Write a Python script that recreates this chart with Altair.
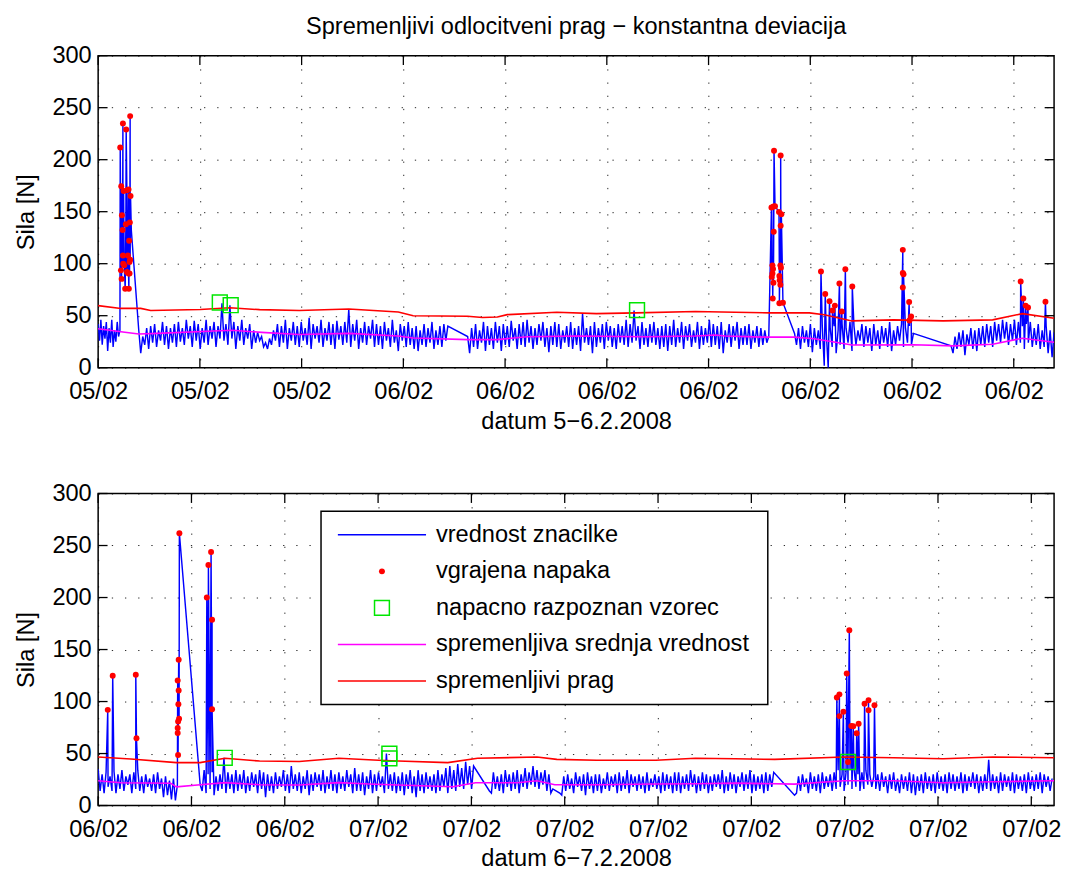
import json
import numpy as np
import pandas as pd
import altair as alt

FONT = "Liberation Sans"
FS = 23.8

TITLE = "Spremenljivi odlocitveni prag − konstantna deviacija"
Y_TITLE = "Sila [N]"
TOP_X_TITLE = "datum 5−6.2.2008"
BOTTOM_X_TITLE = "datum 6−7.2.2008"
LEGEND_LABELS = ["vrednost znacilke", "vgrajena napaka", "napacno razpoznan vzorec",
                 "spremenljiva srednja vrednost", "spremenljivi prag"]

X_MAX = 965
Y_TICKS = [0, 50, 100, 150, 200, 250, 300]
TOP_TICK_STEP = 102.7
TOP_TICK_LABELS = ["05/02"] * 3 + ["06/02"] * 7
BOTTOM_TICK_STEP = 94.2
BOTTOM_TICK_LABELS = ["06/02"] * 3 + ["07/02"] * 8

# ---------------- top panel (5-6.2.2008) ----------------
# noise segments: (x start, x end, local peaks, local troughs between the peaks)
top_seg_a = (0, 22, [42, 46, 40, 44, 38, 46, 36, 44, 36],
             [26, 22, 28, 16, 24, 20, 25, 30])
top_seg_b = (41, 353, [36, 30, 38, 40, 42, 36, 44, 40, 38, 42,
                       44, 38, 46, 40, 45, 42, 38, 46, 40, 44,
                       40, 62, 42, 60, 44, 40, 46, 38, 42, 36,
                       34, 30, 24, 28, 36, 42, 40, 46, 38, 44,
                       40, 44, 38, 48, 42, 40, 46, 38, 44, 42,
                       45, 40, 44, 56, 42, 46, 38, 44, 40, 46,
                       42, 40, 44, 38, 46, 36, 42, 40, 44, 38,
                       40, 36, 42, 38, 44, 36, 40, 42, 40],
             [14, 22, 18, 24, 20, 26, 22, 18, 24, 20,
              25, 22, 28, 20, 26, 18, 24, 22, 28, 20,
              28, 26, 22, 28, 18, 26, 22, 28, 18, 24,
              26, 20, 18, 22, 26, 20, 24, 18, 26, 22,
              20, 26, 22, 18, 28, 24, 20, 26, 22, 18,
              27, 22, 24, 20, 26, 18, 24, 22, 28, 20,
              22, 18, 26, 20, 24, 16, 26, 20, 22, 18,
              16, 22, 20, 24, 18, 22, 20, 26])
top_seg_c = (373, 677, [30, 38, 42, 36, 44, 40, 38, 44, 40, 42,
                        40, 45, 38, 42, 44, 46, 40, 38, 42, 44,
                        38, 40, 44, 42, 36, 40, 44, 38, 40, 52,
                        38, 40, 44, 38, 42, 44, 40, 38, 42, 40,
                        46, 42, 55, 40, 44, 38, 42, 44, 38, 40,
                        42, 40, 46, 38, 44, 40, 42, 36, 44, 40,
                        38, 46, 42, 40, 44, 36, 42, 40, 44, 38,
                        40, 42, 36, 40, 38, 36, 30],
             [14, 20, 18, 24, 16, 22, 18, 24, 16, 22,
              20, 26, 18, 22, 20, 24, 18, 22, 26, 20,
              15, 22, 20, 18, 24, 20, 18, 22, 16, 24,
              22, 14, 20, 24, 18, 26, 20, 18, 24, 22,
              20, 24, 26, 18, 22, 20, 24, 22, 18, 20,
              16, 22, 20, 24, 18, 26, 20, 24, 18, 22,
              24, 20, 22, 18, 14, 24, 20, 26, 18, 22,
              22, 18, 24, 20, 22, 24])
top_seg_d = (703, 823, [33, 38, 40, 36, 42, 38, 36, 40, 34, 38,
                        40, 36, 42, 38, 44, 40, 36, 42, 40, 38,
                        42, 36, 40, 38, 44, 36, 40, 42, 38, 40, 33],
             [22, 18, 24, 20, 15, 22, 18, 2, 0, 20,
              14, 22, 18, 24, 16, 22, 26, 20, 24, 16,
              22, 18, 24, 20, 16, 22, 26, 20, 24, 22])
top_seg_e = (861, 965, [21, 30, 34, 36, 32, 38, 36, 38, 40, 42,
                        40, 44, 42, 46, 44, 42, 46, 44, 40, 42,
                        44, 38, 42, 36, 40, 36, 34],
             [14, 18, 20, 12, 22, 18, 16, 22, 20, 24,
              20, 26, 24, 28, 22, 26, 22, 24, 18, 24,
              20, 22, 18, 20, 14, 10])
top_extra_x = [33.5]
top_extra_y = [132]

top_fault_x = [22.3, 23.0, 23.3, 23.7, 24.0, 24.7, 25.0, 25.0, 25.3, 25.7, 26.3, 27.3, 28.0, 28.3,
               29.0, 29.0, 30.0, 30.7, 30.7, 31.0, 31.3, 31.7, 31.7, 32.0, 32.3, 32.3, 32.7,
               679.7, 680.0, 680.7, 680.7, 681.0, 681.3, 681.7, 681.7, 682.0, 682.3, 683.3,
               687.3, 687.7, 687.7, 688.0, 688.7, 688.7, 689.0, 689.0, 689.3, 689.7, 691.3,
               729.7, 734.0, 738.3, 741.3, 743.7, 748.3, 750.7, 754.3, 761.3,
               812.3, 812.3, 812.3, 813.0, 818.7, 819.0, 820.7,
               931.3, 934.0, 936.3, 938.7, 956.3]
top_fault_y = [211.7, 93.6, 174.5, 85.4, 146.6, 132.3, 234.9, 107.9, 100.0, 169.8, 98.4, 76.0, 138.0, 229.0,
               170.7, 92.0, 107.9, 171.4, 90.5, 76.0, 122.0, 101.6, 90.5, 139.7, 241.9, 103.8, 165.0,
               154.0, 87.3, 98.4, 90.5, 66.6, 94.9, 154.9, 81.6, 130.7, 208.5, 155.2,
               149.8, 88.2, 61.9, 84.1, 98.4, 79.7, 136.4, 204.0, 96.2, 147.6, 62.5,
               92.4, 70.8, 64.0, 55.0, 59.7, 81.0, 54.0, 94.6, 78.0,
               113.3, 91.1, 77.1, 89.8, 63.1, 45.4, 49.2,
               82.8, 66.6, 59.7, 57.8, 63.5]
top_wrong_x = [122.8, 133.8, 544.0]
top_wrong_y = [62.7, 60.1, 55.4]
top_mean_x = [0, 23, 41, 60, 123, 135, 165, 203, 253, 303, 318, 373, 403, 433, 483, 553, 603,
              623, 633, 673, 703, 723, 761, 823, 863, 903, 933, 965]
top_mean_y = [37.4, 34.5, 32.4, 33, 35.5, 36, 34, 32, 33, 30.5, 28.6, 27, 27, 29.8, 30.5, 29.8, 30.5,
              31.4, 30.5, 29.4, 29.4, 27.8, 21.9, 22, 21, 22.5, 28.3, 24.4]
top_thr_x = [0, 23, 43, 53, 103, 133, 163, 203, 253, 303, 318, 373, 388, 403, 413, 463, 503, 543,
             603, 643, 678, 718, 733, 761, 803, 853, 903, 933, 965]
top_thr_y = [59.7, 57, 57, 55, 56, 57.6, 55.8, 55, 56.5, 53.6, 50, 49.5, 48.2, 48.8, 51, 53.3, 52, 52.7,
             54, 53.3, 52.7, 52.7, 51, 45, 46, 45, 46, 52, 47.5]

# ---------------- bottom panel (6-7.2.2008) ----------------
bot_seg_a = (0, 80, [35, 30, 32, 28, 33, 30, 34, 28, 30, 32, 34, 28, 30, 26, 30, 32, 26, 28, 24, 26, 20],
             [14, 12, 18, 14, 12, 16, 14, 20, 12, 16, 14, 12, 18, 14, 12, 16, 8, 10, 6, 5])
bot_seg_b = (103, 379, [20, 34, 30, 32, 28, 30, 46, 32, 30, 34,
                        30, 34, 28, 32, 30, 34, 32, 30, 28, 32,
                        28, 34, 30, 38, 30, 32, 28, 34, 30, 32,
                        30, 34, 28, 34, 30, 32, 28, 34, 30, 36,
                        30, 32, 28, 34, 30, 32, 28, 50, 30, 32,
                        28, 32, 30, 34, 28, 34, 30, 32, 28, 30,
                        34, 30, 36, 38, 34, 40, 36, 42, 38, 38],
             [14, 12, 16, 10, 14, 16, 12, 16, 12, 14,
              16, 12, 14, 18, 12, 16, 8, 14, 12, 16,
              18, 14, 12, 16, 14, 12, 16, 10, 14, 18,
              14, 12, 16, 14, 12, 16, 14, 18, 12, 14,
              14, 10, 16, 12, 14, 18, 12, 16, 14, 12,
              14, 10, 16, 12, 8, 14, 12, 16, 14, 12,
              14, 18, 12, 16, 14, 18, 16, 20, 16])
bot_seg_c = (395, 459, [14, 32, 28, 30, 34, 30, 32, 34, 30, 36, 32, 38, 34, 32, 34, 30, 16],
             [12, 16, 14, 12, 18, 14, 16, 12, 18, 16, 20, 18, 16, 20, 14, 12])
bot_seg_d = (466, 682, [12, 28, 30, 26, 32, 28, 30, 32, 28, 30,
                        30, 26, 32, 28, 30, 32, 28, 34, 30, 28,
                        30, 28, 32, 26, 30, 28, 32, 30, 28, 32,
                        32, 28, 30, 34, 30, 28, 32, 30, 28, 30,
                        30, 34, 28, 32, 30, 28, 32, 30, 34, 30,
                        28, 30, 32, 30, 32],
             [10, 14, 16, 12, 18, 14, 10, 16, 12, 14,
              12, 16, 14, 18, 12, 14, 16, 12, 18, 14,
              16, 12, 14, 18, 16, 12, 14, 16, 12, 14,
              12, 16, 14, 18, 12, 14, 16, 12, 14, 18,
              16, 12, 14, 16, 12, 18, 14, 16, 12, 14,
              16, 12, 14, 18])
bot_seg_e = (703, 963, [10, 28, 30, 26, 32, 28, 30, 32, 28, 30,
                        32, 34, 30, 32, 34, 36, 30, 32, 34, 30,
                        28, 30, 32, 28, 30, 32, 26, 30, 28, 32,
                        30, 28, 30, 32, 28, 30, 32, 28, 30, 32,
                        30, 28, 32, 30, 28, 32, 30, 28, 30, 44,
                        30, 28, 32, 30, 28, 32, 30, 28, 30, 32,
                        28, 30, 32, 30, 28, 26],
             [12, 14, 18, 12, 16, 14, 12, 16, 18, 14,
              16, 18, 14, 20, 16, 18, 14, 16, 20, 18,
              16, 14, 18, 12, 16, 14, 12, 16, 14, 12,
              10, 14, 12, 16, 14, 12, 16, 14, 12, 16,
              14, 16, 12, 14, 18, 16, 12, 14, 16, 14,
              16, 12, 14, 18, 14, 12, 16, 14, 12, 16,
              14, 16, 12, 18, 14])
bot_extra_x = []
bot_extra_y = []
bot_fault_x = [9.7, 14.7, 38.0, 38.7,
               80.3, 80.3, 80.3, 80.7, 80.7, 81.0, 81.3, 81.3, 81.7, 82.0,
               109.7, 111.3, 114.0, 115.0, 115.0,
               745.7, 748.3, 748.3, 752.3, 755.7, 757.0, 758.3, 760.3, 762.3, 765.7,
               767.7, 773.7, 777.7, 777.7, 783.7]
bot_fault_y = [92.0, 124.7, 125.7, 64.7,
               120.3, 74.6, 69.8, 80.9, 48.6, 97.4, 140.2, 110.7, 83.5, 261.8,
               200.0, 231.3, 243.7, 178.7, 92.6,
               103.8, 106.9, 86.0, 90.2, 126.9, 41.9, 168.5, 76.5, 76.2, 69.5,
               78.7, 97.8, 101.2, 91.7, 96.4]
bot_wrong_x = [127.8, 294.0, 294.0, 757.0]
bot_wrong_y = [45.9, 49.8, 45.4, 41.9]
bot_mean_x = [0, 23, 73, 79, 103, 128, 163, 203, 243, 273, 303, 358, 381, 423, 443, 461, 503,
              563, 603, 643, 703, 753, 803, 853, 903, 965]
bot_mean_y = [23.8, 22, 21.5, 18, 20, 22, 20, 19.7, 22, 20.7, 19.7, 18, 21.9, 21.9, 23.8, 20, 20,
              20.7, 21, 21.6, 20.6, 23.8, 23.8, 22, 22.9, 23.8]
bot_thr_x = [0, 33, 79, 103, 128, 163, 203, 243, 283, 303, 353, 383, 443, 463, 503, 563, 603,
             643, 683, 753, 803, 853, 903, 965]
bot_thr_y = [46.6, 44.8, 41.3, 41.3, 45.4, 42.8, 42.3, 45.4, 43.5, 42.8, 41.3, 45.4, 46.7, 44.4,
             43.5, 43.5, 45.4, 45, 44.4, 46.7, 46, 45, 46.7, 46]

W, H = 965, 315
BLUE, RED, MAGENTA, GREEN = "#0000ff", "#ff0000", "#ff00ff", "#00e600"


def build_blue(segments, fx, fy, ex, ey):
    xs, ys = [], []
    for x0, x1, peaks, troughs in segments:
        px = np.linspace(x0, x1, len(peaks))
        tx = (px[:-1] + px[1:]) / 2
        for i, v in enumerate(peaks):
            xs.append(px[i]); ys.append(v)
            if i < len(troughs):
                xs.append(tx[i]); ys.append(troughs[i])
    xs += list(fx) + list(ex)
    ys += list(fy) + list(ey)
    df = pd.DataFrame({"x": xs, "y": ys}).sort_values("x", kind="stable").reset_index(drop=True)
    df["o"] = np.arange(len(df))
    return df


def panel(segments, fx, fy, ex, ey, wx, wy, mx, my, tx, ty, tick_step, tick_labels, xtitle,
          title=None, legend=False):
    xs = alt.Scale(domain=[0, X_MAX], nice=False, zero=False)
    ys = alt.Scale(domain=[0, 300], nice=False, zero=True)
    tick_vals = [round(tick_step * i, 2) for i in range(len(tick_labels))]
    label_expr = f"{json.dumps(tick_labels)}[round(datum.value / {tick_step})]"
    xaxis = alt.Axis(values=tick_vals, labelExpr=label_expr, title=xtitle, labelPadding=31,
                     labelBaseline="alphabetic", titleY=61, titleBaseline="alphabetic",
                     labelOverlap=False, labelFlush=False, grid=True)
    yaxis = alt.Axis(values=Y_TICKS, title=Y_TITLE, labelPadding=7, labelBaseline="middle",
                     titleX=-72, titleY=H / 2, titleAngle=270, titleBaseline="middle",
                     titleAlign="center", labelFlush=False, grid=True)

    blue = build_blue(segments, fx, fy, ex, ey)
    X = lambda f: alt.X(f, scale=xs)
    Y = lambda f: alt.Y(f, scale=ys)
    layers = []
    # grid/axes carrier (drawn first)
    layers.append(alt.Chart(pd.DataFrame({"x": [0], "y": [0]})).mark_point(opacity=0).encode(
        x=alt.X("x:Q", scale=xs, axis=xaxis), y=alt.Y("y:Q", scale=ys, axis=yaxis)))
    layers.append(alt.Chart(blue).mark_line(color=BLUE, strokeWidth=1.45, clip=True).encode(
        x=X("x:Q"), y=Y("y:Q"), order="o:Q"))
    layers.append(alt.Chart(pd.DataFrame({"x": mx, "y": my})).mark_line(
        color=MAGENTA, strokeWidth=1.6).encode(x=X("x:Q"), y=Y("y:Q")))
    layers.append(alt.Chart(pd.DataFrame({"x": tx, "y": ty})).mark_line(
        color=RED, strokeWidth=1.6).encode(x=X("x:Q"), y=Y("y:Q")))
    layers.append(alt.Chart(pd.DataFrame({"x": fx, "y": fy})).mark_point(
        shape="circle", filled=True, size=36, color=RED, opacity=1).encode(x=X("x:Q"), y=Y("y:Q")))
    layers.append(alt.Chart(pd.DataFrame({"x": wx, "y": wy})).mark_point(
        shape="square", filled=False, size=225, color=GREEN, strokeWidth=1.5, opacity=1).encode(
        x=X("x:Q"), y=Y("y:Q")))
    # inward ticks (box style)
    tdf = pd.DataFrame({"x": tick_vals})
    for yy in (H - 4.75, 4.75):
        layers.append(alt.Chart(tdf).mark_tick(orient="vertical", size=9.5, thickness=1.3,
                                               color="black", opacity=1).encode(
            x=X("x:Q"), y=alt.value(yy)))
    ydf = pd.DataFrame({"y": Y_TICKS})
    for xx in (4.75, W - 4.75):
        layers.append(alt.Chart(ydf).mark_tick(orient="horizontal", size=9.5, thickness=1.3,
                                               color="black", opacity=1).encode(
            y=Y("y:Q"), x=alt.value(xx)))

    if legend:
        one = pd.DataFrame({"a": [0]})
        layers.append(alt.Chart(one).mark_rect(fill="white", stroke="black", strokeWidth=1.5).encode(
            x=alt.value(225), x2=alt.value(676), y=alt.value(18), y2=alt.value(213)))
        row_y = [41.7 + 36.9 * i for i in range(len(LEGEND_LABELS))]
        line_cols = {0: BLUE, 3: MAGENTA, 4: RED}
        for i, lab in enumerate(LEGEND_LABELS):
            if i in line_cols:
                layers.append(alt.Chart(one).mark_rule(color=line_cols[i], strokeWidth=1.5).encode(
                    x=alt.value(242), x2=alt.value(331), y=alt.value(row_y[i])))
            elif i == 1:
                layers.append(alt.Chart(one).mark_point(shape="circle", filled=True, size=36,
                                                        color=RED, opacity=1).encode(
                    x=alt.value(286.5), y=alt.value(row_y[i])))
            else:
                layers.append(alt.Chart(one).mark_point(shape="square", filled=False, size=225,
                                                        color=GREEN, strokeWidth=1.5, opacity=1).encode(
                    x=alt.value(286.5), y=alt.value(row_y[i])))
            layers.append(alt.Chart(pd.DataFrame({"t": [lab]})).mark_text(
                align="left", baseline="middle", font=FONT, fontSize=FS, color="black").encode(
                x=alt.value(341), y=alt.value(row_y[i]), text="t:N"))

    ch = alt.layer(*layers).properties(width=W, height=H)
    if title:
        ch = ch.properties(title=alt.TitleParams(text=title, font=FONT, fontSize=FS,
                                                 fontWeight="normal", anchor="middle",
                                                 color="black", offset=5))
    return ch


top = panel([top_seg_a, top_seg_b, top_seg_c, top_seg_d, top_seg_e], top_fault_x, top_fault_y,
            top_extra_x, top_extra_y, top_wrong_x, top_wrong_y, top_mean_x, top_mean_y,
            top_thr_x, top_thr_y, TOP_TICK_STEP, TOP_TICK_LABELS, TOP_X_TITLE, title=TITLE)
bottom = panel([bot_seg_a, bot_seg_b, bot_seg_c, bot_seg_d, bot_seg_e], bot_fault_x, bot_fault_y,
               bot_extra_x, bot_extra_y, bot_wrong_x, bot_wrong_y, bot_mean_x, bot_mean_y,
               bot_thr_x, bot_thr_y, BOTTOM_TICK_STEP, BOTTOM_TICK_LABELS, BOTTOM_X_TITLE, legend=True)

chart = alt.vconcat(top, bottom, spacing=47).properties(
    padding={"left": 6, "right": 0, "top": 2, "bottom": 0}
).configure_view(stroke="black", strokeWidth=1.5).configure_axis(
    labelFont=FONT, titleFont=FONT, labelFontSize=FS, titleFontSize=FS, titleFontWeight="normal",
    labelColor="black", titleColor="black", gridColor="black", gridDash=[1.3, 12],
    gridWidth=1, gridOpacity=0.85, domain=False, ticks=False, tickSize=0
)

chart.save("out.html", embed_options={"renderer": "svg", "actions": False})
